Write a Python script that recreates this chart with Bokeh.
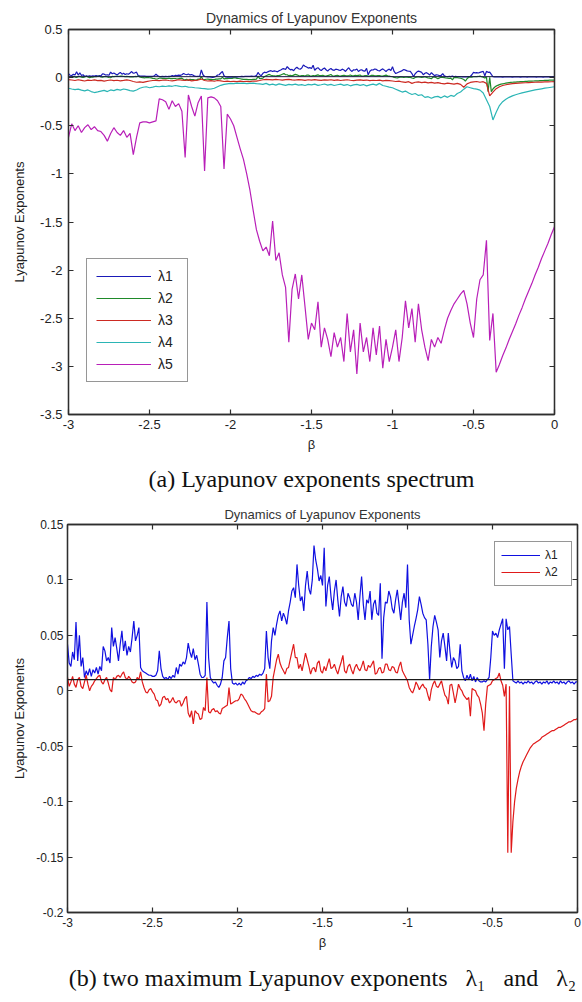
import numpy as np
from bokeh.plotting import figure
from bokeh.models import (Range1d, FixedTicker, CustomJSTickFormatter, LinearAxis,
                          Legend, LegendItem, Title, Span)
from bokeh.embed import file_html
from bokeh.resources import INLINE

# ---------------- data ----------------
BETA_RANGE = (-3.0, 0.0)

# lambda1, beta = -3.00 ... 0.00 step 0.01
LAM1 = [
    0.042, 0.025, 0.022, 0.035, 0.028, 0.062, 0.027, 0.050, 0.022, 0.030,
    0.012, 0.018, 0.014, 0.020, 0.013, 0.019, 0.016, 0.021, 0.015, 0.022,
    0.018, 0.040, 0.036, 0.027, 0.030, 0.025, 0.057, 0.040, 0.048, 0.038,
    0.027, 0.042, 0.054, 0.036, 0.045, 0.032, 0.040, 0.035, 0.048, 0.063,
    0.045, 0.050, 0.057, 0.021, 0.018, 0.017, 0.016, 0.015, 0.014, 0.014,
    0.013, 0.013, 0.014, 0.018, 0.036, 0.020, 0.013, 0.011, 0.012, 0.010,
    0.013, 0.011, 0.014, 0.012, 0.021, 0.015, 0.024, 0.022, 0.026, 0.024,
    0.030, 0.043, 0.035, 0.030, 0.038, 0.028, 0.032, 0.024, 0.015, 0.012,
    0.012, 0.014, 0.080, 0.030, 0.012, 0.009, 0.007, 0.008, 0.005, 0.003,
    0.006, 0.012, 0.027, 0.030, 0.048, 0.063, 0.020, 0.007, 0.006, 0.007,
    0.005, 0.007, 0.005, 0.008, 0.006, 0.009, 0.010, 0.012, 0.011, 0.013,
    0.012, 0.014, 0.013, 0.015, 0.014, 0.016, 0.020, 0.054, 0.030, 0.020,
    0.045, 0.057, 0.050, 0.060, 0.068, 0.072, 0.063, 0.070, 0.066, 0.060,
    0.072, 0.080, 0.090, 0.093, 0.084, 0.114, 0.095, 0.081, 0.085, 0.072,
    0.095, 0.108, 0.092, 0.087, 0.100, 0.131, 0.118, 0.110, 0.099, 0.104,
    0.095, 0.129, 0.076, 0.095, 0.103, 0.085, 0.073, 0.090, 0.100, 0.082,
    0.067, 0.085, 0.094, 0.080, 0.076, 0.088, 0.084, 0.078, 0.076, 0.088,
    0.080, 0.064, 0.085, 0.103, 0.078, 0.064, 0.082, 0.079, 0.090, 0.064,
    0.078, 0.082, 0.070, 0.068, 0.097, 0.029, 0.066, 0.080, 0.079, 0.090,
    0.085, 0.074, 0.070, 0.082, 0.091, 0.078, 0.064, 0.080, 0.088, 0.075,
    0.114, 0.064, 0.042, 0.050, 0.058, 0.065, 0.073, 0.085, 0.078, 0.070,
    0.066, 0.064, 0.042, 0.010, 0.040, 0.058, 0.068, 0.062, 0.055, 0.030,
    0.045, 0.052, 0.040, 0.027, 0.052, 0.035, 0.021, 0.030, 0.027, 0.020,
    0.022, 0.042, 0.018, 0.012, 0.009, 0.014, 0.010, 0.015, 0.009, 0.013,
    0.008, 0.012, 0.009, 0.008, 0.008, 0.009, 0.008, 0.010, 0.012, 0.030,
    0.054, 0.050, 0.052, 0.048, 0.055, 0.060, 0.065, 0.020, 0.065, 0.055,
    0.058, 0.033, 0.009, 0.008, 0.007, 0.009, 0.007, 0.008, 0.006, 0.008,
    0.007, 0.009, 0.007, 0.008, 0.006, 0.008, 0.009, 0.007, 0.008, 0.006,
    0.008, 0.007, 0.009, 0.006, 0.008, 0.007, 0.009, 0.007, 0.008, 0.006,
    0.009, 0.007, 0.008, 0.006, 0.008, 0.009, 0.007, 0.008, 0.006, 0.008,
    0.008,
]

# lambda2, beta = -3.00 ... 0.00 step 0.01
LAM2 = [
    0.012, 0.004, 0.008, 0.013, 0.006, 0.003, 0.010, 0.012, 0.004, 0.002,
    0.008, 0.014, 0.006, 0.000, 0.004, 0.006, 0.009, 0.011, 0.013, 0.014,
    0.008, 0.006, 0.010, 0.012, 0.007, 0.001, -0.001, 0.012, 0.010, 0.013,
    0.014, 0.012, 0.015, 0.017, 0.012, 0.010, 0.013, 0.011, 0.008, 0.007,
    0.008, 0.012, 0.010, 0.017, 0.008, 0.003, -0.001, -0.002, 0.001, 0.002,
    -0.001, -0.003, -0.008, -0.009, -0.014, -0.012, -0.006, -0.005, -0.008, -0.007,
    -0.011, -0.009, -0.006, -0.010, -0.011, -0.009, -0.009, -0.014, -0.011, -0.007,
    -0.005, -0.020, -0.024, -0.018, -0.030, -0.018, -0.020, -0.021, -0.026, -0.025,
    -0.015, -0.018, 0.012, -0.019, -0.020, -0.017, -0.016, -0.019, -0.018, -0.020,
    -0.021, -0.016, -0.015, -0.014, -0.013, 0.003, -0.012, -0.011, -0.010, -0.009,
    -0.009, -0.007, -0.003, -0.004, -0.007, -0.009, -0.012, -0.015, -0.018, -0.019,
    -0.019, -0.020, -0.021, -0.021, -0.019, -0.018, -0.016, 0.015, -0.010, -0.009,
    -0.005, 0.012, 0.020, 0.028, 0.033, 0.025, 0.021, 0.018, 0.015, 0.020,
    0.021, 0.028, 0.035, 0.042, 0.030, 0.030, 0.020, 0.024, 0.018, 0.026,
    0.034, 0.028, 0.022, 0.015, 0.020, 0.021, 0.017, 0.025, 0.027, 0.018,
    0.016, 0.022, 0.018, 0.024, 0.029, 0.020, 0.021, 0.024, 0.019, 0.015,
    0.021, 0.026, 0.032, 0.018, 0.016, 0.022, 0.024, 0.019, 0.015, 0.021,
    0.024, 0.020, 0.018, 0.022, 0.027, 0.019, 0.018, 0.023, 0.021, 0.024,
    0.027, 0.015, 0.016, 0.020, 0.021, 0.016, 0.017, 0.024, 0.024, 0.019,
    0.018, 0.022, 0.021, 0.017, 0.016, 0.022, 0.026, 0.018, 0.015, 0.012,
    0.009, 0.003, 0.000, -0.002, 0.002, 0.008, 0.005, 0.001, 0.004, 0.006,
    0.003, 0.002, -0.004, -0.009, 0.001, 0.006, 0.009, 0.004, 0.003, 0.006,
    0.009, 0.002, -0.004, -0.006, -0.012, 0.005, 0.006, -0.002, -0.011, -0.003,
    0.006, 0.002, 0.000, -0.004, -0.006, -0.008, -0.006, -0.023, 0.002, 0.001,
    0.000, -0.004, -0.006, -0.012, -0.020, -0.036, -0.012, 0.004, 0.005, 0.006,
    0.009, 0.010, 0.011, 0.012, 0.016, 0.009, 0.005, -0.005, 0.006, -0.146,
    0.004, -0.146, -0.118, -0.100, -0.088, -0.080, -0.073, -0.068, -0.064, -0.061,
    -0.058, -0.055, -0.052, -0.050, -0.048, -0.047, -0.046, -0.045, -0.044, -0.042,
    -0.041, -0.040, -0.039, -0.038, -0.037, -0.036, -0.036, -0.035, -0.034, -0.033,
    -0.033, -0.032, -0.031, -0.030, -0.029, -0.028, -0.028, -0.027, -0.026, -0.026,
    -0.025,
]

# lambda3, beta = -3.00 ... 0.00 step 0.02
LAM3 = [
    -0.020, -0.025, -0.030, -0.022, -0.028, -0.035, -0.026, -0.030, -0.024, -0.032,
    -0.028, -0.036, -0.030, -0.025, -0.031, -0.027, -0.033, -0.029, -0.024, -0.030,
    -0.040, -0.048, -0.045, -0.050, -0.042, -0.035, -0.030, -0.028, -0.032, -0.027,
    -0.025, -0.030, -0.034, -0.028, -0.022, -0.026, -0.030, -0.024, -0.033, -0.028,
    -0.025, -0.015, -0.030, -0.035, -0.032, -0.038, -0.030, -0.034, -0.040, -0.036,
    -0.040, -0.038, -0.042, -0.036, -0.040, -0.038, -0.041, -0.035, -0.037, -0.030,
    -0.022, -0.018, -0.020, -0.024, -0.019, -0.022, -0.026, -0.021, -0.018, -0.023,
    -0.025, -0.020, -0.024, -0.028, -0.022, -0.026, -0.021, -0.025, -0.029, -0.023,
    -0.026, -0.022, -0.028, -0.024, -0.030, -0.025, -0.022, -0.027, -0.031, -0.026,
    -0.024, -0.029, -0.025, -0.032, -0.027, -0.030, -0.026, -0.033, -0.028, -0.031,
    -0.035, -0.040, -0.036, -0.045, -0.050, -0.042, -0.060, -0.048, -0.044, -0.052,
    -0.046, -0.055, -0.050, -0.058, -0.052, -0.060, -0.065, -0.058, -0.062, -0.068,
    -0.060, -0.070, -0.100, -0.065, -0.050, -0.045, -0.040, -0.048, -0.042, -0.060,
    -0.190, -0.150, -0.115, -0.095, -0.082, -0.074, -0.068, -0.063, -0.060, -0.057,
    -0.055, -0.053, -0.051, -0.049, -0.048, -0.047, -0.046, -0.045, -0.044, -0.043,
    -0.042,
]

# lambda4, beta = -3.00 ... 0.00 step 0.02
LAM4 = [
    -0.110, -0.118, -0.125, -0.120, -0.130, -0.138, -0.128, -0.145, -0.155, -0.148,
    -0.140, -0.132, -0.145, -0.128, -0.135, -0.122, -0.130, -0.118, -0.125, -0.135,
    -0.140, -0.128, -0.110, -0.100, -0.095, -0.105, -0.098, -0.090, -0.095, -0.088,
    -0.092, -0.085, -0.090, -0.082, -0.088, -0.095, -0.090, -0.098, -0.100, -0.105,
    -0.108, -0.112, -0.115, -0.120, -0.118, -0.110, -0.095, -0.080, -0.070, -0.065,
    -0.060, -0.062, -0.058, -0.060, -0.057, -0.062, -0.060, -0.058, -0.062, -0.065,
    -0.070, -0.060, -0.075, -0.068, -0.078, -0.065, -0.072, -0.080, -0.070, -0.075,
    -0.068, -0.078, -0.072, -0.082, -0.070, -0.076, -0.068, -0.080, -0.074, -0.066,
    -0.078, -0.070, -0.082, -0.074, -0.068, -0.080, -0.072, -0.085, -0.076, -0.070,
    -0.080, -0.072, -0.086, -0.075, -0.068, -0.078, -0.060, -0.082, -0.090, -0.098,
    -0.105, -0.120, -0.135, -0.150, -0.140, -0.160, -0.175, -0.165, -0.185, -0.178,
    -0.205, -0.198, -0.215, -0.200, -0.195, -0.210, -0.190, -0.205, -0.185, -0.195,
    -0.165, -0.150, -0.120, -0.095, -0.105, -0.115, -0.120, -0.130, -0.160, -0.230,
    -0.300, -0.440, -0.360, -0.290, -0.250, -0.225, -0.205, -0.190, -0.178, -0.168,
    -0.158, -0.150, -0.142, -0.135, -0.128, -0.122, -0.116, -0.110, -0.105, -0.100,
    -0.095,
]

# lambda5, beta = -3.00 ... 0.00 step 0.02
LAM5 = [
    -0.62, -0.48, -0.55, -0.50, -0.57, -0.52, -0.49, -0.54, -0.51, -0.55,
    -0.56, -0.60, -0.66, -0.58, -0.52, -0.57, -0.60, -0.55, -0.62, -0.58,
    -0.80, -0.62, -0.47, -0.46, -0.46, -0.47, -0.46, -0.45, -0.22, -0.23,
    -0.25, -0.33, -0.24, -0.30, -0.27, -0.35, -0.83, -0.18, -0.30, -0.40,
    -0.26, -0.19, -0.97, -0.21, -0.20, -0.21, -0.24, -0.30, -0.95, -0.38,
    -0.43, -0.50, -0.62, -0.74, -0.85, -1.00, -1.17, -1.38, -1.58, -1.70,
    -1.80, -1.76, -1.85, -1.49, -1.90, -1.82, -2.05, -2.18, -2.75, -2.20,
    -2.04, -2.30, -2.05, -2.38, -2.72, -2.55, -2.62, -2.33, -2.80, -2.60,
    -2.72, -2.90, -2.65, -2.80, -2.70, -2.95, -2.45, -2.85, -2.62, -3.08,
    -2.55, -2.85, -2.70, -2.95, -2.60, -2.88, -2.58, -3.02, -2.72, -2.95,
    -2.80, -2.62, -2.95, -2.70, -2.32, -2.60, -2.40, -2.75, -2.35, -2.62,
    -2.80, -2.94, -2.72, -2.80, -2.70, -2.76, -2.62, -2.50, -2.42, -2.35,
    -2.30, -2.25, -2.21, -2.35, -2.55, -2.70, -2.30, -2.10, -2.05, -1.69,
    -2.73, -2.45, -3.06, -2.98, -2.89, -2.81, -2.72, -2.64, -2.56, -2.47,
    -2.39, -2.30, -2.22, -2.14, -2.05, -1.97, -1.88, -1.80, -1.72, -1.63,
    -1.55,
]

REF_LEVEL = 0.01  # black reference line

A_XTICKS = [-3, -2.5, -2, -1.5, -1, -0.5, 0]
A_YTICKS = [0.5, 0, -0.5, -1, -1.5, -2, -2.5, -3, -3.5]
A_YRANGE = (-3.5, 0.5)
B_YTICKS = [0.15, 0.1, 0.05, 0, -0.05, -0.1, -0.15, -0.2]
B_YRANGE = (-0.2, 0.15)

A_LABELS = ["λ1", "λ2", "λ3", "λ4", "λ5"]
A_COLORS = ["#1a1ab8", "#1f8a2a", "#cc2a22", "#2bb5b5", "#b81fb8"]
B_LABELS = ["λ1", "λ2"]
B_COLORS = ["#1010e0", "#e01a1a"]

TITLE = "Dynamics of Lyapunov Exponents"
YLABEL = "Lyapunov Exponents"
XLABEL = "β"
CAP_A = "(a) Lyapunov exponents spectrum"
CAP_B = "(b) two maximum Lyapunov exponents\u2002 λ\u2081\u2002 and\u2002 λ\u2082"

SANS = "Liberation Sans"
SERIF = "Liberation Serif"
AX_COL = "#2e2e2e"
TXT_COL = "#222222"

FMT = "return String(Math.round(tick*1000)/1000);"
HIDE = "return '';"


def grid(vals):
    return np.linspace(BETA_RANGE[0], BETA_RANGE[1], len(vals))


def style_axis(ax, ticks, font_size, label_standoff):
    ax.ticker = FixedTicker(ticks=ticks)
    ax.formatter = CustomJSTickFormatter(code=FMT)
    ax.axis_line_color = AX_COL
    ax.axis_line_width = 1.3
    ax.major_tick_line_color = AX_COL
    ax.major_tick_line_width = 1.2
    ax.major_tick_in = 5
    ax.major_tick_out = 0
    ax.minor_tick_line_color = None
    ax.major_label_text_font = SANS
    ax.major_label_text_font_size = font_size
    ax.major_label_text_color = TXT_COL
    ax.major_label_standoff = label_standoff
    ax.axis_label_text_font = SANS
    ax.axis_label_text_font_style = "normal"
    ax.axis_label_text_color = TXT_COL


def add_mirror(p, ticks, side):
    ax = LinearAxis(ticker=FixedTicker(ticks=ticks),
                    formatter=CustomJSTickFormatter(code=HIDE),
                    major_label_text_font_size="1px", major_label_standoff=0,
                    axis_line_color=AX_COL, axis_line_width=1.3,
                    major_tick_line_color=AX_COL, major_tick_line_width=1.2,
                    major_tick_in=5, major_tick_out=0,
                    minor_tick_line_color=None)
    p.add_layout(ax, side)


def make_fig(width, height, yrange, yticks, borders, title_size, tick_size,
             ylabel_standoff, ylab_tick_standoff, caption, cap_standoff, title_standoff):
    l, r, t, b = borders
    p = figure(width=width, height=height,
               x_range=Range1d(*BETA_RANGE), y_range=Range1d(*yrange),
               output_backend="svg", toolbar_location=None,
               min_border_left=l, min_border_right=r,
               min_border_top=t, min_border_bottom=b,
               title=TITLE)
    p.xgrid.visible = False
    p.ygrid.visible = False
    p.background_fill_color = "white"
    p.border_fill_color = "white"
    p.outline_line_color = AX_COL
    p.outline_line_width = 1.3
    p.title.text_font = SANS
    p.title.text_font_size = title_size
    p.title.text_font_style = "normal"
    p.title.text_color = "#333333"
    p.title.align = "center"
    p.title.standoff = title_standoff

    style_axis(p.xaxis[0], A_XTICKS, tick_size, 5)
    p.xaxis[0].axis_label = XLABEL
    p.xaxis[0].axis_label_text_font_size = "13px"
    p.xaxis[0].axis_label_standoff = 5
    style_axis(p.yaxis[0], yticks, tick_size, ylab_tick_standoff)
    p.yaxis[0].axis_label = YLABEL
    p.yaxis[0].axis_label_text_font_size = "13px"
    p.yaxis[0].axis_label_standoff = ylabel_standoff

    add_mirror(p, A_XTICKS, "above")
    add_mirror(p, yticks, "right")

    p.add_layout(Title(text=caption, align="center", text_font=SERIF,
                       text_font_size="24px", text_font_style="normal",
                       text_color="#111111", standoff=cap_standoff), "below")
    return p


# ---------------- figure (a) ----------------
pa = make_fig(582, 500, A_YRANGE, A_YTICKS, (68, 28, 29, 86), "14px", "13px",
              10, 6, CAP_A, 18, 7)
ra = []
for vals, col in zip([LAM1, LAM2, LAM3, LAM4, LAM5], A_COLORS):
    ra.append(pa.line(grid(vals), vals, line_color=col, line_width=1.2))
pa.add_layout(Span(location=REF_LEVEL, dimension="width", line_color="#1a1a40",
                   line_width=1.0))
leg_a = Legend(items=[LegendItem(label=lab, renderers=[r]) for lab, r in zip(A_LABELS, ra)],
               location=(18, 32), orientation="vertical",
               border_line_color=AX_COL, border_line_width=1.5,
               background_fill_color="white", background_fill_alpha=1.0,
               glyph_width=55, glyph_height=16, label_height=16,
               label_standoff=7, spacing=6, padding=9, margin=0,
               label_text_font=SANS, label_text_font_size="14px",
               label_text_color=TXT_COL)
pa.add_layout(leg_a)

# ---------------- figure (b) ----------------
pb = make_fig(582, 502, B_YRANGE, B_YTICKS, (67, 5, 24, 90), "13px", "12px",
              6, 4, CAP_B, 21, 6)
rb = []
for vals, col in zip([LAM1, LAM2], B_COLORS):
    rb.append(pb.line(grid(vals), vals, line_color=col, line_width=1.2))
pb.add_layout(Span(location=REF_LEVEL, dimension="width", line_color="#1a1a1a",
                   line_width=1.2))
leg_b = Legend(items=[LegendItem(label=lab, renderers=[r]) for lab, r in zip(B_LABELS, rb)],
               location=(427, 326), orientation="vertical",
               border_line_color=AX_COL, border_line_width=1.5,
               background_fill_color="white", background_fill_alpha=1.0,
               glyph_width=39, glyph_height=14, label_height=14,
               label_standoff=5, spacing=3, padding=6, margin=0,
               label_text_font=SANS, label_text_font_size="12px",
               label_text_color=TXT_COL)
pb.add_layout(leg_b)

open("out.html", "w").write(file_html([pa, pb], INLINE))
